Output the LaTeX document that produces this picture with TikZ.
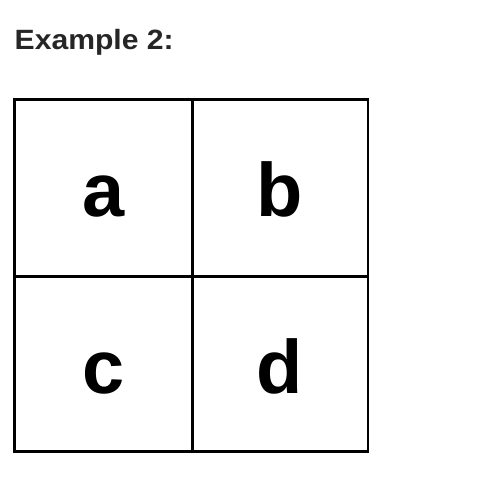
\documentclass[tikz,border=0pt]{standalone}
\usepackage{fontspec}
\setmainfont{Liberation Sans}
\newfontfamily\titlefont[FakeStretch=1.08]{Liberation Sans}
\definecolor{titlegray}{HTML}{262626}
\begin{document}
\begin{tikzpicture}[x=1bp,y=1bp,
  cell/.style={draw=black,line width=2.6bp,inner sep=0pt},
  letter/.style={font=\fontsize{76}{76}\selectfont\bfseries,anchor=base,inner sep=0pt},
  title/.style={font=\titlefont\fontsize{28}{28}\selectfont\bfseries,text=titlegray,anchor=base west,inner sep=0pt}]
\useasboundingbox (0,0) rectangle (502,484);
\node[title] (t) at (14.5,434.5) {Example 2:};
\node[cell,minimum width=178bp,minimum height=177bp] (ca) at (103.7,295.8) {};
\node[cell,minimum width=175.3bp,minimum height=177bp] (cb) at (280.35,295.8) {};
\node[cell,minimum width=178bp,minimum height=174.8bp] (cc) at (103.7,119.9) {};
\node[cell,minimum width=175.3bp,minimum height=174.8bp] (cd) at (280.35,119.9) {};
\node[letter] (la) at (103.5,267.5) {a};
\node[letter] (lb) at (280,267.5) {b};
\node[letter] (lc) at (103.5,90) {c};
\node[letter] (ld) at (280,90) {d};
\end{tikzpicture}
\end{document}
